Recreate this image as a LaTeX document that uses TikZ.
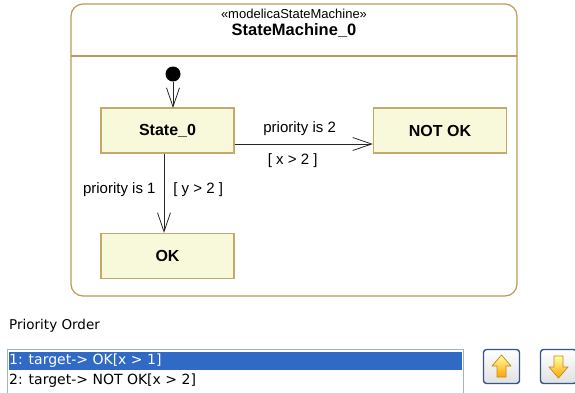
\documentclass[tikz,border=0pt]{standalone}
\usepackage{fontspec}
\setmainfont{Liberation Sans}
\newfontfamily\uifont{DejaVu Sans}
\usetikzlibrary{arrows.meta}

\definecolor{framecol}{RGB}{186,154,88}
\definecolor{statefill}{RGB}{248,248,218}
\definecolor{statedraw}{RGB}{196,170,104}
\definecolor{selblue}{RGB}{49,106,197}
\definecolor{listedge}{RGB}{160,178,200}
\definecolor{btnedge}{RGB}{52,86,136}
\definecolor{arrowedge}{RGB}{196,136,24}

\tikzset{
  statebox/.style={draw=statedraw, line width=1.2pt, fill=statefill,
    minimum width=133pt, minimum height=45pt, inner sep=0pt,
    font=\fontsize{16}{18}\selectfont\bfseries},
  trans/.style={draw=black!85, line width=0.8pt,
    -{Straight Barb[length=19pt,width=13pt,line width=0.8pt]}},
  tlabel/.style={font=\fontsize{15}{17}\selectfont, inner sep=0pt},
  uitext/.style={font=\uifont\fontsize{14}{16}\selectfont, inner sep=0pt, anchor=west},
  btnbox/.style={draw=btnedge, line width=1.4pt, rounded corners=3pt,
    top color=white, bottom color=black!12, minimum width=36pt,
    minimum height=34pt, inner sep=0pt},
  btnarrow/.style={draw=arrowedge, line width=0.7pt, line join=round,
    top color=yellow!35, bottom color=orange!70!yellow}
}

\begin{document}
\begin{tikzpicture}[x=1pt,y=-1pt]
\useasboundingbox (0,0) rectangle (575,392);

% state machine frame with its header compartment
\draw[framecol, line width=1.2pt, rounded corners=12pt] (71,4) rectangle (517,296);
\draw[framecol, line width=1.2pt] (71,56) -- (517,56);
\node[font=\fontsize{13}{14}\selectfont, inner sep=0pt] (stereo) at (294,14) {«modelicaStateMachine»};
\node[font=\fontsize{16.5}{18}\selectfont\bfseries, inner sep=0pt] (smname) at (294,31) {StateMachine\_0};

% states
\node[statebox] (s0) at (167.5,130.5) {State\_0};
\node[statebox] (notok) at (440,130.5) {NOT OK};
\node[statebox] (ok) at (167.5,256) {OK};

% initial pseudo-state
\node[circle, fill=black, minimum size=15pt, inner sep=0pt] (init) at (173,74) {};
\coordinate (initend) at (173,108);
\draw[trans] (init) -- (initend);

% transitions
\draw[trans] ([yshift=-13.5pt]s0.east) -- ([yshift=-13.5pt]notok.west)
  node[tlabel, pos=0.47, yshift=15pt] (p2) {priority is 2}
  node[tlabel, pos=0.42, yshift=-17pt] (g2) {[ x > 2 ]};
\draw[trans] ([xshift=-3.5pt]s0.south) -- ([xshift=-3.5pt]ok.north)
  node[tlabel, pos=0.46, anchor=east, xshift=-8pt] (p1) {priority is 1}
  node[tlabel, pos=0.46, anchor=west, xshift=9pt] (g1) {[ y > 2 ]};

% priority list
\node[uitext, font=\uifont\fontsize{13.5}{15}\selectfont] (ptitle) at (9,326) {Priority Order};
\draw[listedge, line width=1pt] (7,349) rectangle (463,400);
\fill[selblue] (8.5,352) rectangle (461.5,370);
\node[uitext, text=white] (row1) at (9,361) {1: target-> OK[x > 1]};
\node[uitext] (row2) at (9,381) {2: target-> NOT OK[x > 2]};

% move up / move down buttons
\node[btnbox] (upbtn) at (501.5,366.5) {};
\node[btnbox] (downbtn) at (558.5,366.5) {};
\draw[btnarrow] (501.5,355) -- (511,366) -- (506,366) -- (506,377)
  -- (497,377) -- (497,366) -- (492,366) -- cycle;
\draw[btnarrow] (558.5,378) -- (568,367) -- (563,367) -- (563,356)
  -- (554,356) -- (554,367) -- (549,367) -- cycle;
\end{tikzpicture}
\end{document}
